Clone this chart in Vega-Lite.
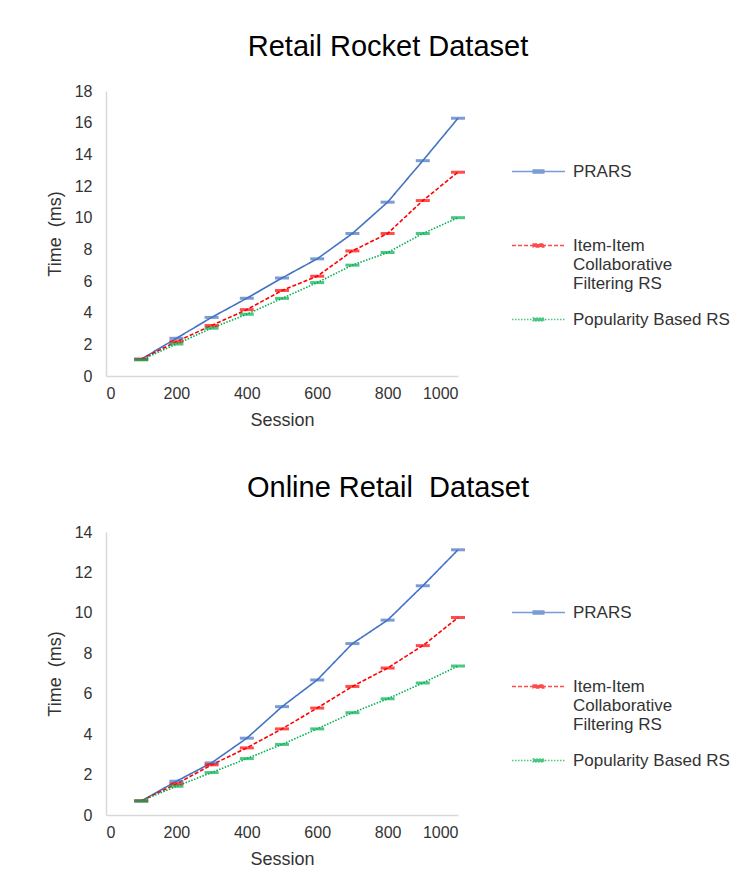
{
  "$schema": "https://vega.github.io/schema/vega-lite/v6.json",
  "padding": {"left": 46, "top": 33, "right": 0, "bottom": 0},
  "spacing": 45,
  "config": {
    "font": "Liberation Sans",
    "view": {"stroke": null},
    "axis": {
      "domainColor": "#D9D9D9",
      "domainWidth": 1.5,
      "ticks": false,
      "grid": false,
      "labelFontSize": 16,
      "labelColor": "#333333",
      "titleFontSize": 18,
      "titleFontWeight": "normal",
      "titleColor": "#333333"
    },
    "title": {"fontSize": 29, "fontWeight": "normal", "color": "#000000", "dx": 106, "offset": 21},
    "legend": {
      "orient": "none",
      "legendX": 405,
      "legendY": 53,
      "title": null,
      "padding": 0,
      "symbolType": "M-1,0H1M-0.2,-0.06H0.2V0.06H-0.2Z",
      "symbolSize": 2809,
      "symbolStrokeWidth": 1.5,
      "labelFontSize": 17,
      "labelColor": "#333333",
      "labelLimit": 300,
      "labelOffset": 7,
      "rowPadding": 0
    }
  },
  "datasets": {
    "retail": [
      {"session": 100, "series": "PRARS", "time": 1.06},
      {"session": 200, "series": "PRARS", "time": 2.38},
      {"session": 300, "series": "PRARS", "time": 3.7},
      {"session": 400, "series": "PRARS", "time": 4.91},
      {"session": 500, "series": "PRARS", "time": 6.19},
      {"session": 600, "series": "PRARS", "time": 7.4},
      {"session": 700, "series": "PRARS", "time": 9.0},
      {"session": 800, "series": "PRARS", "time": 10.98},
      {"session": 900, "series": "PRARS", "time": 13.6},
      {"session": 1000, "series": "PRARS", "time": 16.28},
      {"session": 100, "series": "Item-Item Collaborative Filtering RS", "time": 1.06},
      {"session": 200, "series": "Item-Item Collaborative Filtering RS", "time": 2.17},
      {"session": 300, "series": "Item-Item Collaborative Filtering RS", "time": 3.19},
      {"session": 400, "series": "Item-Item Collaborative Filtering RS", "time": 4.19},
      {"session": 500, "series": "Item-Item Collaborative Filtering RS", "time": 5.4},
      {"session": 600, "series": "Item-Item Collaborative Filtering RS", "time": 6.3},
      {"session": 700, "series": "Item-Item Collaborative Filtering RS", "time": 7.9},
      {"session": 800, "series": "Item-Item Collaborative Filtering RS", "time": 9.0},
      {"session": 900, "series": "Item-Item Collaborative Filtering RS", "time": 11.08},
      {"session": 1000, "series": "Item-Item Collaborative Filtering RS", "time": 12.87},
      {"session": 100, "series": "Popularity Based RS", "time": 1.02},
      {"session": 200, "series": "Popularity Based RS", "time": 2.02},
      {"session": 300, "series": "Popularity Based RS", "time": 3.02},
      {"session": 400, "series": "Popularity Based RS", "time": 3.9},
      {"session": 500, "series": "Popularity Based RS", "time": 4.9},
      {"session": 600, "series": "Popularity Based RS", "time": 5.9},
      {"session": 700, "series": "Popularity Based RS", "time": 7.0},
      {"session": 800, "series": "Popularity Based RS", "time": 7.8},
      {"session": 900, "series": "Popularity Based RS", "time": 9.0},
      {"session": 1000, "series": "Popularity Based RS", "time": 10.0}
    ],
    "online": [
      {"session": 100, "series": "PRARS", "time": 0.69},
      {"session": 200, "series": "PRARS", "time": 1.67},
      {"session": 300, "series": "PRARS", "time": 2.58},
      {"session": 400, "series": "PRARS", "time": 3.8},
      {"session": 500, "series": "PRARS", "time": 5.36},
      {"session": 600, "series": "PRARS", "time": 6.68},
      {"session": 700, "series": "PRARS", "time": 8.48},
      {"session": 800, "series": "PRARS", "time": 9.64},
      {"session": 900, "series": "PRARS", "time": 11.34},
      {"session": 1000, "series": "PRARS", "time": 13.12},
      {"session": 100, "series": "Item-Item Collaborative Filtering RS", "time": 0.7},
      {"session": 200, "series": "Item-Item Collaborative Filtering RS", "time": 1.54},
      {"session": 300, "series": "Item-Item Collaborative Filtering RS", "time": 2.48},
      {"session": 400, "series": "Item-Item Collaborative Filtering RS", "time": 3.32},
      {"session": 500, "series": "Item-Item Collaborative Filtering RS", "time": 4.26},
      {"session": 600, "series": "Item-Item Collaborative Filtering RS", "time": 5.29},
      {"session": 700, "series": "Item-Item Collaborative Filtering RS", "time": 6.36},
      {"session": 800, "series": "Item-Item Collaborative Filtering RS", "time": 7.27},
      {"session": 900, "series": "Item-Item Collaborative Filtering RS", "time": 8.38},
      {"session": 1000, "series": "Item-Item Collaborative Filtering RS", "time": 9.77},
      {"session": 100, "series": "Popularity Based RS", "time": 0.7},
      {"session": 200, "series": "Popularity Based RS", "time": 1.42},
      {"session": 300, "series": "Popularity Based RS", "time": 2.1},
      {"session": 400, "series": "Popularity Based RS", "time": 2.79},
      {"session": 500, "series": "Popularity Based RS", "time": 3.49},
      {"session": 600, "series": "Popularity Based RS", "time": 4.26},
      {"session": 700, "series": "Popularity Based RS", "time": 5.06},
      {"session": 800, "series": "Popularity Based RS", "time": 5.75},
      {"session": 900, "series": "Popularity Based RS", "time": 6.53},
      {"session": 1000, "series": "Popularity Based RS", "time": 7.37}
    ]
  },
  "resolve": {"legend": {"color": "independent", "strokeDash": "independent"}, "scale": {"y": "independent"}},
  "vconcat": [
    {
      "title": {"text": "Retail Rocket Dataset"},
      "width": 352,
      "height": 285,
      "data": {"name": "retail"},
      "encoding": {
        "x": {"field": "session", "type": "quantitative", "scale": {"domain": [0, 1000]}, "axis": {"values": [0, 200, 400, 600, 800, 1000], "format": "d", "title": "Session", "labelPadding": 9, "titlePadding": 10}},
        "y": {"field": "time", "type": "quantitative", "scale": {"domain": [0, 18]}, "axis": {"values": [0, 2, 4, 6, 8, 10, 12, 14, 16, 18], "title": "Time\u00a0 (ms)", "labelPadding": 14, "titlePadding": 10}},
        "color": {
          "field": "series", "type": "nominal",
          "scale": {"domain": ["PRARS", "Item-Item Collaborative Filtering RS", "Popularity Based RS"], "range": ["#4472C4", "#FF0000", "#00B050"]},
          "legend": {"labelExpr": "datum.label == 'PRARS' ? ['PRARS', ' ', ' '] : datum.label == 'Item-Item Collaborative Filtering RS' ? ['Item-Item', 'Collaborative', 'Filtering RS'] : datum.label"}
        }
      },
      "layer": [
        {
          "mark": {"type": "line", "strokeWidth": 1.6},
          "encoding": {
            "strokeDash": {
              "field": "series", "type": "nominal",
              "scale": {"domain": ["PRARS", "Item-Item Collaborative Filtering RS", "Popularity Based RS"], "range": [[1, 0], [4, 2], [1.5, 1.5]]},
              "legend": {"labelExpr": "datum.label == 'PRARS' ? ['PRARS', ' ', ' '] : datum.label == 'Item-Item Collaborative Filtering RS' ? ['Item-Item', 'Collaborative', 'Filtering RS'] : datum.label"}
            }
          }
        },
        {
          "mark": {"type": "tick", "orient": "horizontal", "size": 14, "thickness": 3}
        }
      ]
    },
    {
      "title": {"text": "Online Retail\u00a0 Dataset"},
      "width": 352,
      "height": 283,
      "data": {"name": "online"},
      "encoding": {
        "x": {"field": "session", "type": "quantitative", "scale": {"domain": [0, 1000]}, "axis": {"values": [0, 200, 400, 600, 800, 1000], "format": "d", "title": "Session", "labelPadding": 9, "titlePadding": 10}},
        "y": {"field": "time", "type": "quantitative", "scale": {"domain": [0, 14]}, "axis": {"values": [0, 2, 4, 6, 8, 10, 12, 14], "title": "Time\u00a0 (ms)", "labelPadding": 14, "titlePadding": 10}},
        "color": {
          "field": "series", "type": "nominal",
          "scale": {"domain": ["PRARS", "Item-Item Collaborative Filtering RS", "Popularity Based RS"], "range": ["#4472C4", "#FF0000", "#00B050"]},
          "legend": {"labelExpr": "datum.label == 'PRARS' ? ['PRARS', ' ', ' '] : datum.label == 'Item-Item Collaborative Filtering RS' ? ['Item-Item', 'Collaborative', 'Filtering RS'] : datum.label"}
        }
      },
      "layer": [
        {
          "mark": {"type": "line", "strokeWidth": 1.6},
          "encoding": {
            "strokeDash": {
              "field": "series", "type": "nominal",
              "scale": {"domain": ["PRARS", "Item-Item Collaborative Filtering RS", "Popularity Based RS"], "range": [[1, 0], [4, 2], [1.5, 1.5]]},
              "legend": {"labelExpr": "datum.label == 'PRARS' ? ['PRARS', ' ', ' '] : datum.label == 'Item-Item Collaborative Filtering RS' ? ['Item-Item', 'Collaborative', 'Filtering RS'] : datum.label"}
            }
          }
        },
        {
          "mark": {"type": "tick", "orient": "horizontal", "size": 14, "thickness": 3}
        }
      ]
    }
  ]
}
